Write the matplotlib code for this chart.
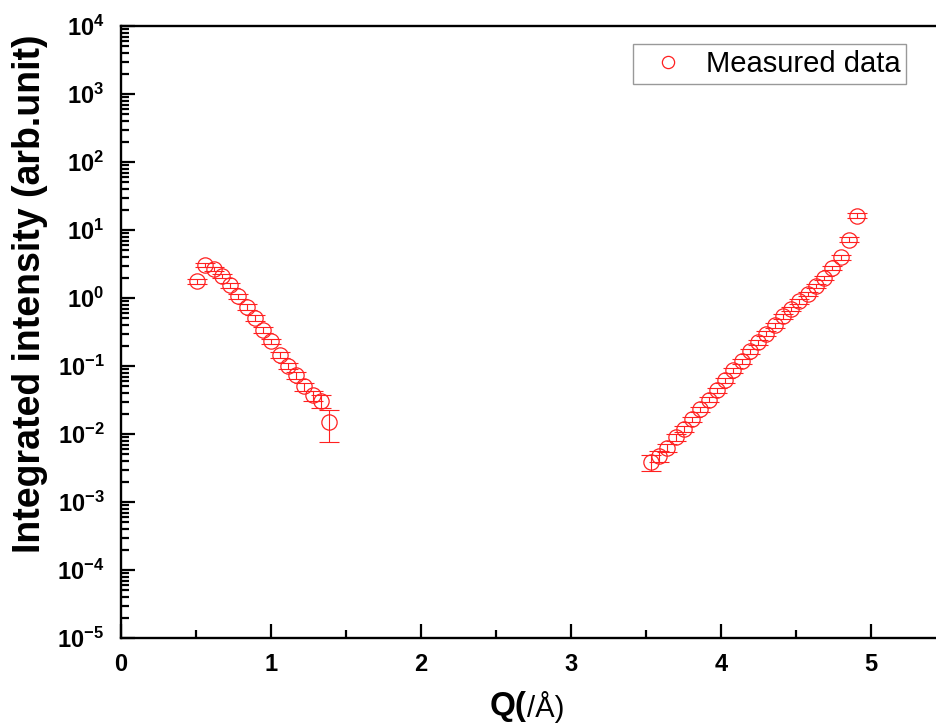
import numpy as np
import matplotlib
matplotlib.use("Agg")
import matplotlib.pyplot as plt
from matplotlib.ticker import FixedLocator, FuncFormatter, LogLocator, NullFormatter

plt.rcParams['font.family'] = ['Liberation Sans', 'DejaVu Sans']
plt.rcParams['mathtext.fontset'] = 'custom'
plt.rcParams['mathtext.bf'] = 'Liberation Sans:bold'
plt.rcParams['mathtext.rm'] = 'Liberation Sans:bold'

# Left cluster (low Q)
q_low = [0.507, 0.562, 0.617, 0.672, 0.727, 0.782, 0.837, 0.892, 0.947, 1.002,
         1.057, 1.112, 1.167, 1.222, 1.277, 1.332, 1.387]
i_low = [1.78, 3.07, 2.68, 2.11, 1.55, 1.07, 0.74, 0.51, 0.34, 0.23,
         0.144, 0.099, 0.073, 0.050, 0.037, 0.031, 0.015]
e_low = [0.15, 0.25, 0.22, 0.17, 0.13, 0.09, 0.065, 0.045, 0.03, 0.021,
         0.014, 0.010, 0.008, 0.007, 0.006, 0.007, 0.0075]

# Right cluster (high Q)
q_high = [3.533, 3.588, 3.643, 3.698, 3.753, 3.808, 3.863, 3.918, 3.973, 4.028,
          4.083, 4.138, 4.193, 4.248, 4.303, 4.358, 4.413, 4.468, 4.523, 4.578,
          4.633, 4.688, 4.743, 4.798, 4.853, 4.908]
i_high = [0.0039, 0.0048, 0.0063, 0.0089, 0.012, 0.0165, 0.023, 0.032, 0.044, 0.062,
          0.087, 0.118, 0.165, 0.225, 0.30, 0.40, 0.54, 0.69, 0.90, 1.15,
          1.50, 1.97, 2.77, 4.0, 7.2, 16.2]
e_high = [0.0010, 0.0009, 0.0009, 0.0010, 0.0012, 0.0015, 0.002, 0.0027, 0.0036, 0.005,
          0.007, 0.0095, 0.013, 0.018, 0.024, 0.032, 0.043, 0.055, 0.072, 0.092,
          0.12, 0.16, 0.22, 0.32, 0.58, 1.3]

fig = plt.figure(figsize=(9.37, 7.24), dpi=100)
W, H = 937, 724
ax = fig.add_axes([121 / W, 1 - 638 / H, 825 / W, (638 - 26) / H])

red = '#ff2020'
for q, i, e, lab in [(q_low, i_low, e_low, 'Measured data'), (q_high, i_high, e_high, None)]:
    ax.errorbar(q, i, yerr=e, fmt='none', ecolor=red, elinewidth=0.8, capsize=7.5, capthick=0.8)
    ax.plot(q, i, 'o', mfc='none', mec=red, ms=11, mew=0.9, label=lab, linestyle='none')

ax.set_yscale('log')
ax.set_ylim(1e-5, 1e4)
ax.set_xlim(0, 5.5)

ax.yaxis.set_major_locator(FixedLocator([10.0 ** k for k in range(-5, 5)]))
ax.yaxis.set_major_formatter(FuncFormatter(lambda v, p: r'$\mathbf{10^{%d}}$' % int(round(np.log10(v)))))
ax.yaxis.set_minor_locator(LogLocator(base=10, subs=np.arange(2, 10), numticks=20))
ax.yaxis.set_minor_formatter(NullFormatter())

ax.set_xticks([0, 1, 2, 3, 4, 5])
ax.set_xticks([0.5, 1.5, 2.5, 3.5, 4.5], minor=True)

ax.tick_params(which='both', direction='in', top=False, right=False, width=1.6)
ax.tick_params(which='major', length=10, pad=10)
ax.tick_params(which='minor', length=5.5)
ax.tick_params(axis='y', which='major', labelsize=17, pad=12)
ax.tick_params(axis='x', which='major', labelsize=17, pad=11)
for lbl in ax.get_xticklabels():
    lbl.set_fontweight('bold')

for s in ax.spines.values():
    s.set_linewidth(1.7)

ax.set_ylabel('Integrated intensity (arb.unit)', fontsize=27, fontweight='bold')
ax.yaxis.set_label_coords(-0.088, 0.562)

fig.text(527 / W, 1 - 707 / H, 'Q(', fontsize=24, fontweight='bold', ha='right', va='center')
fig.text(527 / W, 1 - 707 / H, '/Å)', fontsize=21, fontweight='normal', ha='left', va='center')

leg = ax.legend(loc='upper left', bbox_to_anchor=((633 - 121) / 825, 1 - (44 - 26) / 612),
                fontsize=21, frameon=True, fancybox=False, edgecolor='#808080',
                handletextpad=0.3, borderpad=0.2, handlelength=2.0, borderaxespad=0,
                markerscale=0.8)
leg.get_frame().set_linewidth(1.0)

fig.savefig('out.png', dpi=100)
